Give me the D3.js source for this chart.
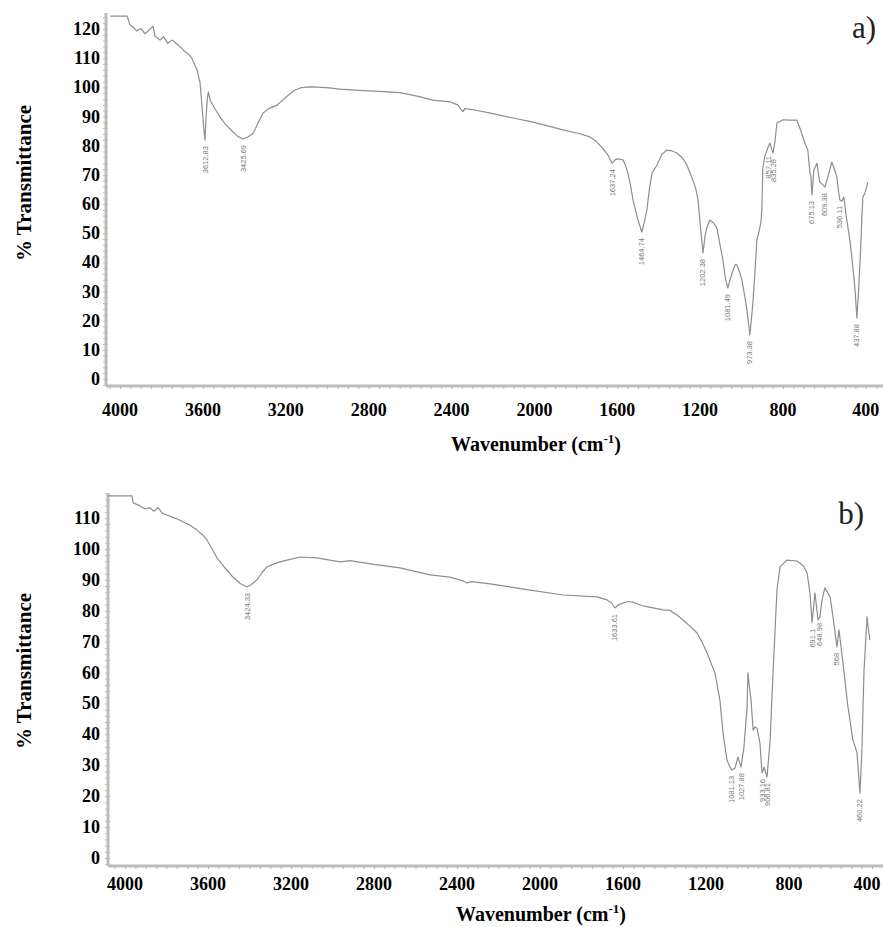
<!DOCTYPE html>
<html>
<head>
<meta charset="utf-8">
<script src="https://cdn.jsdelivr.net/npm/d3@7"></script>
<style>
    body { margin: 0; background: #fff; }
    svg { display: block; }
</style>
</head>
<body>
<script>
// Tick labels
var xTicks = [4000, 3600, 3200, 2800, 2400, 2000, 1600, 1200, 800, 400];
var yTicksA = [0, 10, 20, 30, 40, 50, 60, 70, 80, 90, 100, 110, 120];
var yTicksB = [0, 10, 20, 30, 40, 50, 60, 70, 80, 90, 100, 110];

// Spectrum a) : wavenumber / % transmittance
var wnA = [4048, 3966, 3952, 3937, 3920, 3900, 3880, 3862, 3841, 3832, 3807, 3790, 3770, 3748, 3725, 3705, 3690, 3672, 3655, 3645,
    3628, 3614, 3603, 3596, 3590, 3584, 3578, 3574, 3565, 3540, 3517, 3490, 3455, 3430, 3406, 3385, 3358, 3335, 3310, 3280,
    3242, 3200, 3160, 3131, 3090, 3049, 2990, 2938, 2850, 2750, 2649, 2560, 2489, 2407, 2370, 2352, 2345, 2335, 2300, 2200,
    2103, 2000, 1862, 1780, 1732, 1700, 1669, 1645, 1625, 1610, 1597, 1572, 1560, 1548, 1535, 1524, 1500, 1481, 1470, 1457,
    1445, 1432, 1408, 1385, 1360, 1335, 1312, 1285, 1264, 1235, 1220, 1210, 1196, 1186, 1176, 1167, 1153, 1135, 1119, 1105,
    1090, 1078, 1066, 1052, 1041, 1030, 1022, 1010, 998, 986, 974, 966, 960, 953, 945, 935, 926, 916, 906, 902,
    897, 888, 877, 863, 855, 848, 839, 829, 800, 766, 733, 718, 704, 692, 680, 670, 665, 660, 651, 636,
    628, 622, 610, 597, 583, 564, 552, 540, 530, 525, 515, 506, 495, 477, 465, 453, 443, 434, 424, 419,
    414, 404, 390];
var tA = [124.4, 124.4, 121.4, 120.7, 119.3, 120.2, 118.4, 119.5, 121.0, 117.6, 116.2, 117.4, 115.1, 116.2, 114.8, 113.6, 112.4, 111.6, 110.2, 108.6,
    105.9, 101.5, 92.2, 86.0, 81.9, 91.0, 96.5, 98.4, 95.6, 92.4, 89.8, 87.2, 84.7, 83.1, 82.3, 82.9, 84.3, 87.6, 91.2, 92.8,
    93.9, 96.6, 98.9, 99.8, 100.2, 100.1, 99.8, 99.4, 99.0, 98.6, 98.2, 96.9, 95.6, 95.0, 94.0, 92.3, 91.7, 92.7, 92.4, 91.0,
    89.5, 88.0, 85.4, 84.1, 83.0, 81.4, 79.0, 76.8, 74.0, 75.2, 75.5, 75.1, 73.2, 70.6, 66.0, 61.4, 54.5, 50.4, 53.5, 57.9,
    65.0, 70.6, 73.4, 77.0, 78.5, 78.2, 77.5, 75.8, 73.4, 68.2, 65.0, 61.4, 50.5, 43.2, 49.0, 52.1, 54.5, 53.5, 51.8, 46.5,
    40.8, 34.5, 31.2, 34.8, 37.4, 39.3, 39.1, 36.8, 33.9, 29.0, 23.7, 19.0, 15.1, 20.0, 26.1, 37.0, 47.7, 50.4, 54.0, 57.9,
    72.7, 76.2, 78.5, 80.9, 79.0, 77.5, 81.2, 87.8, 88.9, 88.8, 88.8, 86.0, 83.0, 80.5, 78.5, 71.0, 69.3, 63.1, 71.6, 74.0,
    70.0, 67.5, 66.8, 65.8, 69.3, 74.4, 72.0, 69.3, 63.5, 61.4, 61.0, 62.4, 56.0, 47.7, 40.0, 31.5, 20.9, 31.5, 46.0, 55.5,
    62.4, 63.8, 67.5];

// Spectrum b)
var wnB = [4082, 3966, 3961, 3930, 3905, 3880, 3860, 3841, 3820, 3798, 3770, 3745, 3720, 3690, 3653, 3625, 3605, 3580, 3557, 3520,
    3480, 3445, 3412, 3390, 3364, 3340, 3316, 3270, 3219, 3157, 3075, 2964, 2916, 2800, 2675, 2530, 2434, 2370, 2352, 2330,
    2241, 2048, 1889, 1725, 1677, 1655, 1639, 1620, 1600, 1575, 1552, 1530, 1504, 1407, 1373, 1340, 1311, 1280, 1243, 1220,
    1195, 1157, 1133, 1118, 1099, 1085, 1075, 1060, 1046, 1031, 1017, 1002, 998, 990, 983, 973, 963, 954, 940, 930,
    920, 906, 891, 877, 858, 843, 810, 761, 730, 713, 699, 689, 675, 660, 651, 641, 627, 602, 588, 569,
    559, 540, 516, 492, 472, 458, 448, 439, 424, 419, 410];
var tB = [117.2, 117.2, 114.9, 114.0, 113.0, 113.3, 112.2, 113.4, 111.6, 111.0, 110.2, 109.6, 108.7, 107.8, 106.1, 104.5, 102.9, 100.0, 97.1, 94.0,
    90.9, 88.8, 87.7, 88.5, 90.0, 92.3, 94.2, 95.5, 96.4, 97.4, 97.1, 95.8, 96.2, 95.0, 93.9, 91.6, 90.9, 89.6, 89.0, 89.4,
    88.7, 86.7, 85.1, 84.5, 83.5, 82.5, 80.9, 82.0, 82.5, 83.0, 82.8, 82.2, 81.6, 80.3, 80.1, 78.6, 77.0, 75.2, 72.8, 70.0,
    66.3, 59.9, 51.1, 40.5, 31.7, 29.5, 28.5, 29.1, 32.7, 29.4, 35.9, 48.9, 59.9, 55.0, 51.1, 41.4, 42.4, 42.0, 37.2, 27.5,
    29.4, 26.2, 38.2, 59.9, 86.7, 94.2, 96.4, 96.1, 94.5, 92.2, 85.8, 76.1, 85.8, 77.0, 78.0, 83.5, 87.4, 84.5, 78.0, 68.3,
    73.8, 63.1, 48.9, 38.2, 34.0, 21.0, 35.9, 59.9, 78.0, 74.8, 70.6];

// Peak annotations
var peakWnA = [3590, 3406, 1625, 1481, 1186, 1066, 960, 870, 848, 660, 597, 525, 443];
var peakTA = [81.9, 82.3, 74.0, 50.4, 43.2, 31.2, 15.1, 78.5, 77.5, 63.1, 65.8, 61.4, 20.9];
var peakTextA = ["3612.83", "3425.69", "1637.24", "1464.74", "1202.38", "1081.49", "973.38", "857.11", "835.28", "675.13", "609.38", "536.11", "437.88"];

var peakWnB = [3412, 1639, 1075, 1031, 930, 906, 689, 651, 569, 458];
var peakTB = [87.7, 80.9, 28.5, 29.4, 27.5, 26.2, 76.1, 78.0, 68.3, 21.0];
var peakTextB = ["3424.33", "1633.61", "1081.13", "1027.88", "933.16", "906.81", "691.1", "648.98", "568", "460.22"];

var W = 883, H = 927;
var serif = "'Liberation Serif', 'Times New Roman', serif";

var svg = d3.select("body").append("svg")
    .attr("width", W)
    .attr("height", H);

function drawPanel(p) {
    var x = d3.scaleLinear().domain(p.xDomain).range([p.left, p.right]);
    var y = d3.scaleLinear().domain(p.yDomain).range([p.bottom, p.top]);
    var g = svg.append("g");

    // minor ticks, left axis
    g.append("g")
        .attr("transform", "translate(" + p.left + ",0)")
        .call(d3.axisLeft(y).ticks(60).tickSize(3).tickFormat(""))
        .call(function (s) {
            s.select(".domain").remove();
            s.selectAll("line").attr("stroke", "#b8b8b8").attr("stroke-width", 1);
        });
    g.append("g")
        .attr("transform", "translate(" + p.left + ",0)")
        .call(d3.axisRight(y).ticks(60).tickSize(2).tickFormat(""))
        .call(function (s) {
            s.select(".domain").remove();
            s.selectAll("line").attr("stroke", "#c8c8c8").attr("stroke-width", 1);
        });
    // minor ticks, bottom axis
    g.append("g")
        .attr("transform", "translate(0," + p.bottom + ")")
        .call(d3.axisBottom(x).ticks(75).tickSize(3).tickFormat(""))
        .call(function (s) {
            s.select(".domain").remove();
            s.selectAll("line").attr("stroke", "#b8b8b8").attr("stroke-width", 1);
        });

    // axis lines
    g.append("line")
        .attr("x1", p.left).attr("x2", p.left)
        .attr("y1", p.top).attr("y2", p.bottom)
        .attr("stroke", "#bcbcbc").attr("stroke-width", 3);
    g.append("line")
        .attr("x1", p.left).attr("x2", p.right)
        .attr("y1", p.bottom).attr("y2", p.bottom)
        .attr("stroke", "#bcbcbc").attr("stroke-width", 3);

    // tick labels
    g.selectAll(".ylab")
        .data(p.yTicks)
        .enter().append("text")
        .attr("x", 100)
        .attr("y", function (d) { return y(d) + 6; })
        .attr("text-anchor", "end")
        .attr("font-family", serif)
        .attr("font-weight", "bold")
        .attr("font-size", 18)
        .text(function (d) { return d; });

    g.selectAll(".xlab")
        .data(xTicks)
        .enter().append("text")
        .attr("x", function (d) { return Math.min(x(d), W - 16); })
        .attr("y", p.xLabelY)
        .attr("text-anchor", "middle")
        .attr("font-family", serif)
        .attr("font-weight", "bold")
        .attr("font-size", 18)
        .text(function (d) { return d; });

    // titles
    var xt = g.append("text")
        .attr("x", p.xTitleX)
        .attr("y", p.xTitleY)
        .attr("text-anchor", "middle")
        .attr("font-family", serif)
        .attr("font-weight", "bold")
        .attr("font-size", 20);
    xt.append("tspan").text("Wavenumber (cm");
    xt.append("tspan").attr("font-size", 13).attr("dy", -8).text("-1");
    xt.append("tspan").attr("dy", 8).text(")");

    g.append("text")
        .attr("transform", "translate(31," + p.yTitleY + ") rotate(-90)")
        .attr("text-anchor", "middle")
        .attr("font-family", serif)
        .attr("font-weight", "bold")
        .attr("font-size", 21)
        .text("% Transmittance");

    g.append("text")
        .attr("x", p.tagX)
        .attr("y", p.tagY)
        .attr("text-anchor", "end")
        .attr("font-family", serif)
        .attr("font-size", 31)
        .attr("fill", "#222")
        .text(p.tag);

    // spectrum
    var pts = p.wn.map(function (d, i) { return [d, p.t[i]]; });
    var line = d3.line()
        .x(function (d) { return x(d[0]); })
        .y(function (d) { return y(d[1]); });
    g.append("path")
        .datum(pts)
        .attr("d", line)
        .attr("fill", "none")
        .attr("stroke", "#8e8e8e")
        .attr("stroke-width", 1.2)
        .attr("stroke-linejoin", "round");

    // peak labels
    var pk = p.peakWn.map(function (d, i) { return { wn: d, t: p.peakT[i], s: p.peakText[i] }; });
    g.selectAll(".peak")
        .data(pk)
        .enter().append("text")
        .attr("transform", function (d) {
            return "translate(" + (x(d.wn) + 2.5) + "," + (y(d.t) + 6) + ") rotate(-90)";
        })
        .attr("text-anchor", "end")
        .attr("font-family", "'Liberation Sans', Arial, sans-serif")
        .attr("font-size", 7.5)
        .attr("fill", "#777")
        .text(function (d) { return d.s; });
}

drawPanel({
    left: 106, right: 883, top: 13, bottom: 386,
    xDomain: [4068, 317], yDomain: [-2.4, 125.5],
    yTicks: yTicksA, xLabelY: 416, xTitleX: 536, xTitleY: 451, yTitleY: 183,
    tag: "a)", tagX: 876, tagY: 38,
    wn: wnA, t: tA, peakWn: peakWnA, peakT: peakTA, peakText: peakTextA
});

drawPanel({
    left: 108, right: 883, top: 493, bottom: 866,
    xDomain: [4082, 347], yDomain: [-2.59, 118.1],
    yTicks: yTicksB, xLabelY: 890, xTitleX: 541, xTitleY: 921, yTitleY: 671,
    tag: "b)", tagX: 864, tagY: 524,
    wn: wnB, t: tB, peakWn: peakWnB, peakT: peakTB, peakText: peakTextB
});
</script>
</body>
</html>
